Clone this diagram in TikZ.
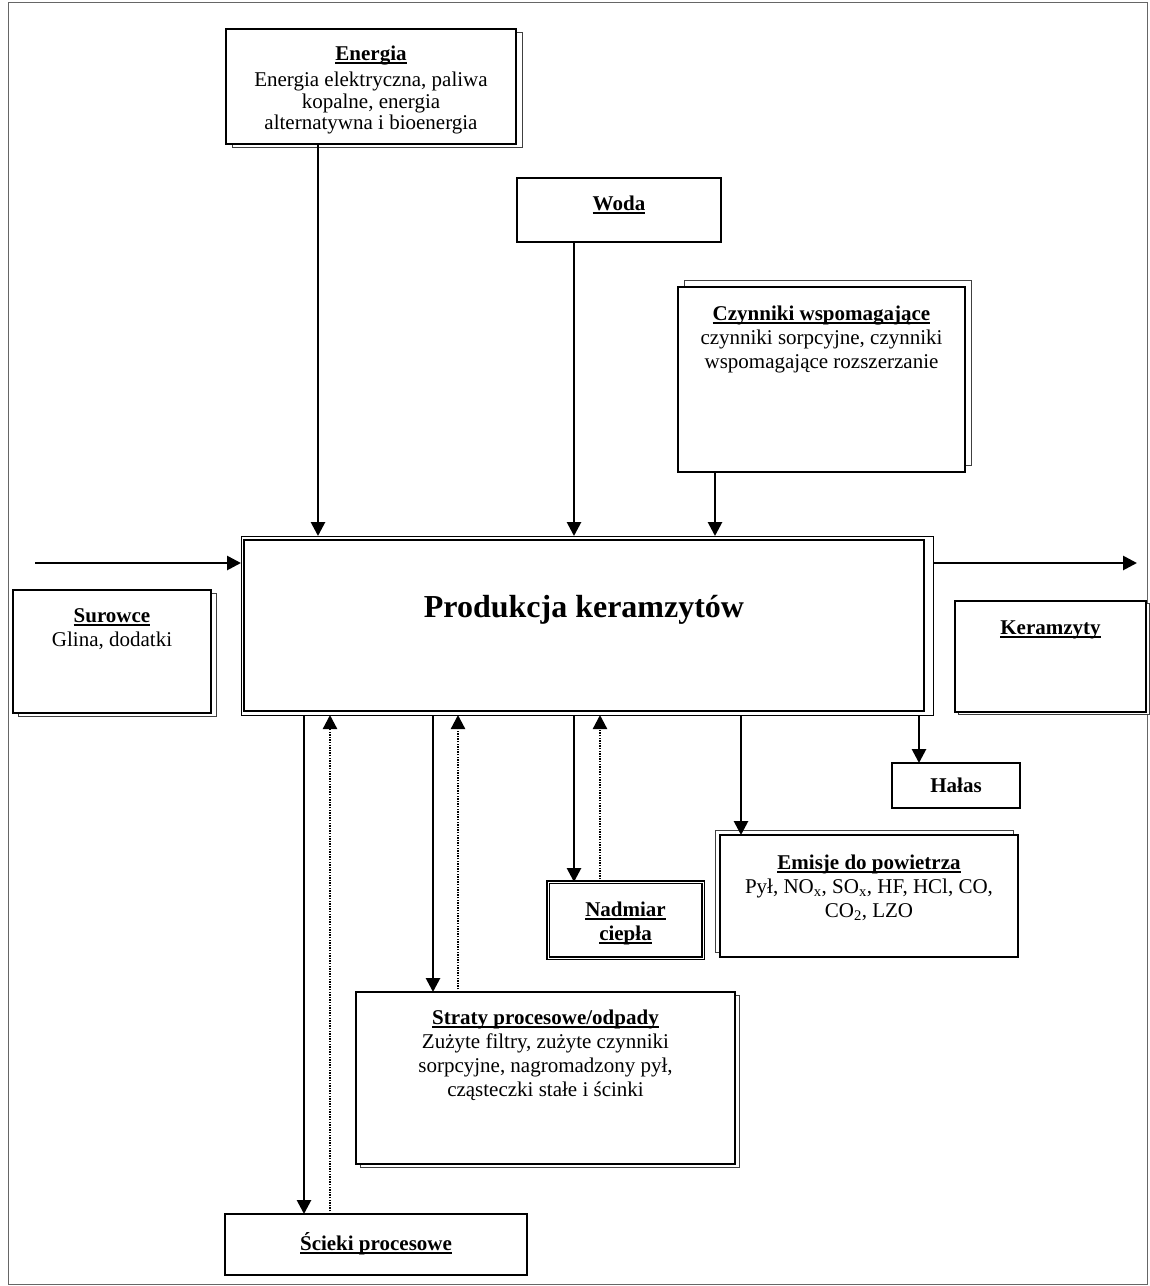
\documentclass[tikz,border=0pt]{standalone}
\usepackage{fontspec}
\setmainfont{Liberation Serif}
\usetikzlibrary{arrows.meta,shadows}

\newsavebox{\tytbox}
\newcommand{\tyt}[1]{\leavevmode\sbox{\tytbox}{\bfseries #1}\rlap{\rule[-3.5pt]{\wd\tytbox}{1.3pt}}\rule{0pt}{15pt}\usebox{\tytbox}}
\newcommand{\wnetrze}[4]{\begin{minipage}[t][#2pt][t]{#1pt}\centering\vspace*{#3pt}#4\end{minipage}}

\begin{document}
\begin{tikzpicture}[x=1pt,y=1pt,
  every node/.style={font=\fontsize{21}{24}\selectfont},
  pudlo/.style={draw, fill=white, line width=2pt, anchor=north west, inner sep=0pt, outer sep=0pt},
  cien/.style 2 args={general shadow={draw=black!75, fill=white, line width=1pt, shadow xshift=#1pt, shadow yshift=#2pt}},
  strz/.style={line width=2.7pt, -{Triangle[length=14pt,width=14pt]}},
  kropki/.style={strz, line width=2.3pt, dash pattern=on 1.5pt off 1.1pt}
]
\useasboundingbox (0,0) rectangle (1150,-1286);
\draw[black!60, line width=0.8pt] (8,-2) rectangle (1147,-1284);

% Proces
\node[pudlo, line width=2.3pt] (prod) at (244,-540)
  {\wnetrze{680}{171}{55}{\fontsize{32}{36}\selectfont\bfseries Produkcja keramzytów}};
\draw[line width=1pt] ([shift={(-3,4)}]prod.north west) coordinate (rNW)
  rectangle ([shift={(9,-4)}]prod.south east) coordinate (rSE);

% Wejscia
\node[pudlo, cien={6}{-3}] (energia) at (226,-29)
  {\wnetrze{290}{115}{16}{\fontsize{21}{21.5}\selectfont\tyt{Energia}\\[5pt]Energia elektryczna, paliwa\\kopalne, energia\\alternatywna i bioenergia}};
\node[pudlo, line width=2.3pt] (woda) at (517,-178) {\wnetrze{204}{64}{17}{\tyt{Woda}}};
\node[pudlo, line width=2.3pt, cien={6}{7}] (czynniki) at (678,-287)
  {\wnetrze{287}{185}{18}{\tyt{Czynniki wspomagające}\\czynniki sorpcyjne, czynniki\\wspomagające rozszerzanie}};
\node[pudlo, cien={5}{-3}] (surowce) at (13,-590) {\wnetrze{198}{123}{17}{\tyt{Surowce}\\Glina, dodatki}};

% Wyjscia
\node[pudlo, cien={3}{-2}] (keramzyty) at (955,-601) {\wnetrze{191}{111}{18}{\tyt{Keramzyty}}};
\node[draw, line width=2pt, minimum width=128pt, minimum height=45pt, anchor=north west, outer sep=0pt,
  font=\fontsize{21}{24}\selectfont\bfseries] (halas) at (892,-763) {Hałas};
\node[pudlo, line width=2.3pt, cien={-5}{5}] (emisje) at (720,-835)
  {\wnetrze{298}{122}{19}{\tyt{Emisje do powietrza}\\Pył, NO\textsubscript{x}, SO\textsubscript{x}, HF, HCl, CO,\\CO\textsubscript{2}, LZO}};
\node[pudlo, line width=1.4pt, double, double distance=1pt] (nadmiar) at (548,-882)
  {\wnetrze{155}{76}{19}{\tyt{Nadmiar}\\\tyt{ciepła}}};
\node[pudlo, cien={4}{-3}] (straty) at (356,-992)
  {\wnetrze{379}{172}{17}{\tyt{Straty procesowe/odpady}\\Zużyte filtry, zużyte czynniki\\sorpcyjne, nagromadzony pył,\\cząsteczki stałe i ścinki}};
\node[pudlo, line width=2.3pt] (scieki) at (225,-1214) {\wnetrze{302}{61}{18}{\tyt{Ścieki procesowe}}};

% kolumny strzalek
\foreach \n/\x in {xE/318, xC/715, xS1/304, xS2/330, xT1/433, xT2/458, xN1/574, xN2/600, xM/741, xH/919}
  \coordinate (\n) at (\x,0);
\coordinate (wodaZ) at (574,-275);
\coordinate (wej) at (35,-563);
\coordinate (wyj) at (1137,-563);

% do procesu
\draw[strz] (energia.south -| xE) -- (rNW -| xE);
\draw[line width=1.2pt] (woda.south -| wodaZ) -- (wodaZ);
\draw[strz] (wodaZ) -- (rNW -| wodaZ);
\draw[strz] (czynniki.south -| xC) -- (rNW -| xC);
\draw[strz] (wej) -- (wej -| rNW);
\draw[strz] (wyj -| rSE) -- (wyj);

% z procesu
\draw[strz] (rSE -| xS1) -- (scieki.north -| xS1);
\draw[kropki] (scieki.north -| xS2) -- (rSE -| xS2);
\draw[strz] (rSE -| xT1) -- (straty.north -| xT1);
\draw[kropki] (straty.north -| xT2) -- (rSE -| xT2);
\draw[strz] (rSE -| xN1) -- (nadmiar.north -| xN1);
\draw[kropki] (nadmiar.north -| xN2) -- (rSE -| xN2);
\draw[strz] (rSE -| xM) -- (emisje.north -| xM);
\draw[strz] (rSE -| xH) -- (halas.north -| xH);
\end{tikzpicture}
\end{document}
